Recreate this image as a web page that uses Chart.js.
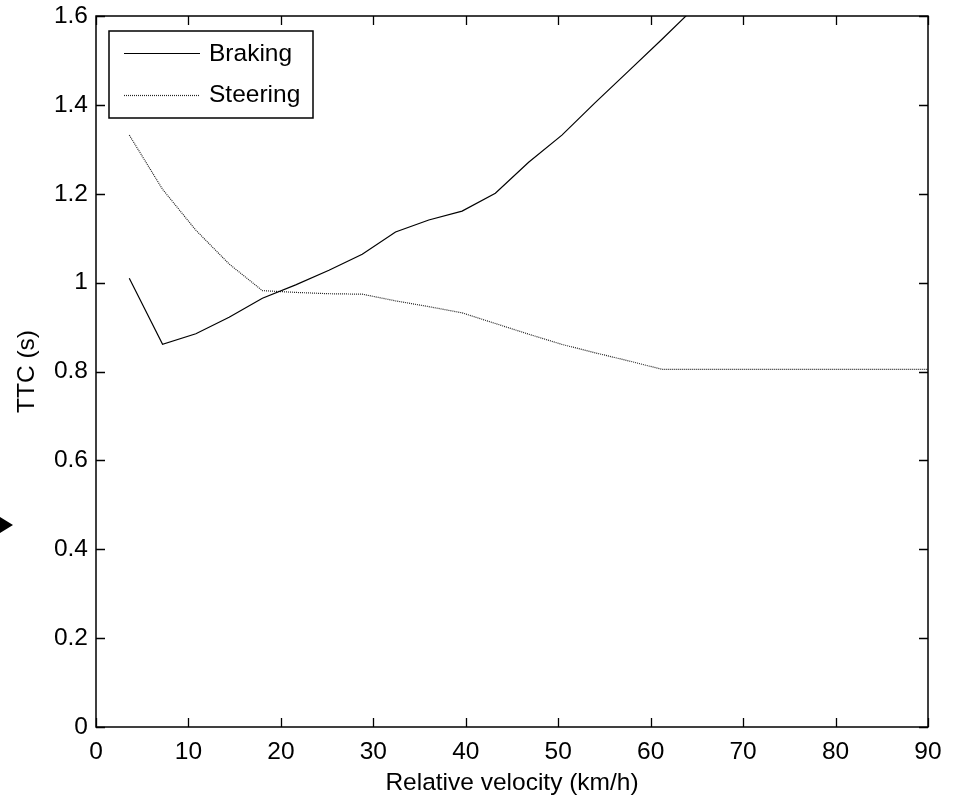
<!DOCTYPE html>
<html>
<head>
<meta charset="utf-8">
<script src="https://cdn.jsdelivr.net/npm/chart.js@4/dist/chart.umd.min.js"></script>
<style>
  html, body { margin: 0; padding: 0; background: #fff; }
  #wrap { width: 955px; height: 801px; }
</style>
</head>
<body>
<div id="wrap"><canvas id="ttc"></canvas></div>
<script>
// relative velocity (km/h)
const velocity = [3.6, 7.2, 10.8, 14.4, 18, 21.6, 25.2, 28.8, 32.4, 36, 39.6, 43.2, 46.8,
  50.4, 54, 57.6, 61.2, 64.8, 68.4, 72, 75.6, 79.2, 82.8, 86.4, 90]
// TTC (s)
const braking = [1.01, 0.861, 0.885, 0.922, 0.965, 0.995, 1.028, 1.064, 1.114, 1.141, 1.161,
  1.201, 1.271, 1.332, 1.405, 1.476, 1.547, 1.62]
const steering = [1.332, 1.21, 1.118, 1.042, 0.982, 0.978, 0.975, 0.974, 0.959, 0.946, 0.932,
  0.908, 0.884, 0.861, 0.842, 0.824, 0.805, 0.805, 0.805, 0.805, 0.805, 0.805, 0.805, 0.805, 0.805]
const seriesNames = ['Braking', 'Steering']
const xTicks = [0, 10, 20, 30, 40, 50, 60, 70, 80, 90]
const yTicks = [0, 0.2, 0.4, 0.6, 0.8, 1, 1.2, 1.4, 1.6]

const FONT = 'Liberation Sans, Arial, sans-serif'
const FS = 24.5

const toPoints = (xs, ys) => ys.map((y, i) => ({ x: xs[i], y: y }))

// matlab style box, inward ticks, boxed legend
const matlabBox = {
  id: 'matlabBox',
  afterDatasetsDraw(chart) {
    const { ctx, chartArea: a, scales } = chart
    const len = 9
    ctx.save()
    ctx.strokeStyle = '#000'
    ctx.lineWidth = 1.5
    ctx.strokeRect(a.left, a.top, a.right - a.left, a.bottom - a.top)

    ctx.lineWidth = 1.3
    ctx.beginPath()
    xTicks.forEach(v => {
      const px = Math.round(scales.x.getPixelForValue(v)) + 0.5
      ctx.moveTo(px, a.bottom); ctx.lineTo(px, a.bottom - len)
      ctx.moveTo(px, a.top); ctx.lineTo(px, a.top + len)
    })
    yTicks.forEach(v => {
      const py = Math.round(scales.y.getPixelForValue(v)) + 0.5
      ctx.moveTo(a.left, py); ctx.lineTo(a.left + len, py)
      ctx.moveTo(a.right, py); ctx.lineTo(a.right - len, py)
    })
    ctx.stroke()

    // legend
    const lx = a.left + 13, ly = a.top + 15, lw = 204, lh = 87
    ctx.fillStyle = '#fff'
    ctx.fillRect(lx, ly, lw, lh)
    ctx.lineWidth = 1.5
    ctx.strokeRect(lx, ly, lw, lh)
    ctx.font = FS + 'px ' + FONT
    ctx.textBaseline = 'middle'
    ctx.fillStyle = '#000'
    chart.data.datasets.forEach((ds, i) => {
      const y = ly + 22 + i * 41.5
      ctx.beginPath()
      ctx.strokeStyle = ds.borderColor
      ctx.lineWidth = ds.borderWidth
      ctx.setLineDash(ds.borderDash || [])
      ctx.moveTo(lx + 15, Math.round(y) + 0.5)
      ctx.lineTo(lx + 91, Math.round(y) + 0.5)
      ctx.stroke()
      ctx.setLineDash([])
      ctx.fillText(ds.label, lx + 100, y + 1)
    })

    // small arrow marker left of the axis
    ctx.beginPath()
    ctx.fillStyle = '#000'
    ctx.moveTo(0, 517); ctx.lineTo(13, 525); ctx.lineTo(0, 533)
    ctx.closePath()
    ctx.fill()
    ctx.restore()
  }
}

new Chart(document.getElementById('ttc'), {
  type: 'line',
  data: {
    datasets: [
      {
        label: seriesNames[0],
        data: toPoints(velocity, braking),
        borderColor: '#000',
        borderWidth: 1.2,
        pointRadius: 0,
        tension: 0,
        fill: false
      },
      {
        label: seriesNames[1],
        data: toPoints(velocity, steering),
        borderColor: '#222',
        borderWidth: 1.2,
        borderDash: [1, 1],
        pointRadius: 0,
        tension: 0,
        fill: false
      }
    ]
  },
  options: {
    responsive: true,
    maintainAspectRatio: false,
    animation: false,
    layout: { padding: { top: 0, right: 27, left: 0, bottom: 0 } },
    plugins: {
      legend: { display: false },
      tooltip: { enabled: false }
    },
    scales: {
      x: {
        type: 'linear',
        min: 0,
        max: 90,
        afterBuildTicks: s => { s.ticks = xTicks.map(v => ({ value: v })) },
        afterFit: s => { s.height = 74 },
        grid: { display: false, drawTicks: false },
        border: { display: false },
        ticks: { padding: 11, color: '#000', font: { family: FONT, size: FS } },
        title: {
          display: true,
          text: 'Relative velocity (km/h)',
          color: '#000',
          font: { family: FONT, size: FS },
          padding: { top: 0, bottom: 3 }
        }
      },
      y: {
        type: 'linear',
        min: 0,
        max: 1.6,
        afterBuildTicks: s => { s.ticks = yTicks.map(v => ({ value: v })) },
        afterFit: s => { s.width = 96; s.paddingTop = 16 },
        grid: { display: false, drawTicks: false },
        border: { display: false },
        ticks: {
          padding: 8,
          color: '#000',
          font: { family: FONT, size: FS },
          callback: v => String(Math.round(v * 10) / 10)
        },
        title: {
          display: true,
          text: 'TTC (s)',
          color: '#000',
          font: { family: FONT, size: FS },
          padding: { top: 13, bottom: 0 }
        }
      }
    }
  },
  plugins: [matlabBox]
})
</script>
</body>
</html>
